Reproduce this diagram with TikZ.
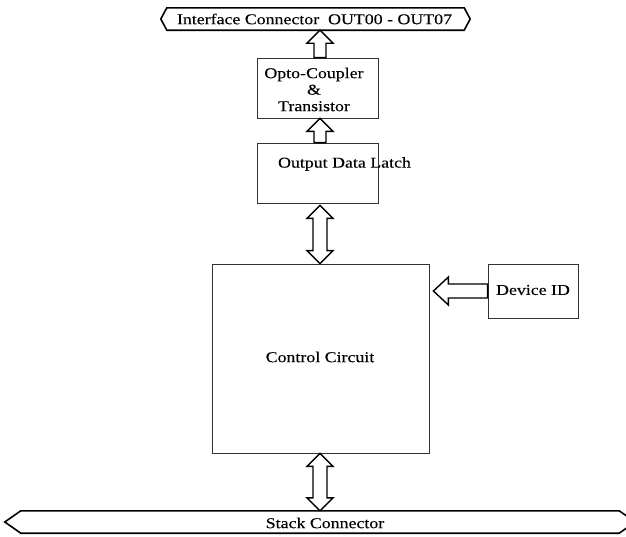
\documentclass[tikz,border=0pt]{standalone}
\usepackage{fontspec}
\setmainfont{Liberation Serif}[FakeStretch=1.19,FakeBold=0.15]
\usetikzlibrary{calc}
\tikzset{
  box/.style={draw=black!80, line width=0.8pt, fill=none, inner sep=0pt},
  lbl/.style={font=\fontsize{15}{16.5}\selectfont, inner sep=0pt, align=center},
  conn/.style={draw=black, line width=1.6pt, line join=miter},
  blockarrow/.style={draw=black, line width=1.4pt, fill=white, line join=miter},
}
\begin{document}
\begin{tikzpicture}[x=1pt,y=-1pt]
\useasboundingbox (0,0) rectangle (626,536);
% axis of the vertical arrows
\coordinate (ax) at (320,0);
% boxes
\node[box, minimum width=121pt, minimum height=60pt] (opto) at (317.5,88) {};
\node[lbl] (optot) at (314,89.5) {Opto-Coupler\\\&\\Transistor};
\node[box, minimum width=121pt, minimum height=60pt] (latch) at (317.5,173) {};
\node[lbl] (latcht) at (344.5,164) {Output Data Latch};
\node[box, minimum width=217pt, minimum height=189pt] (ctrl) at (320.5,358.5) {};
\node[lbl] (ctrlt) at (320,357) {Control Circuit};
\node[box, minimum width=90pt, minimum height=54pt] (devid) at (533,291) {};
\node[lbl] (devidt) at (533,290) {Device ID};
% connectors
\node[inner sep=0pt, minimum width=309pt, minimum height=22pt] (iface) at (315.5,19) {};
\draw[conn] (iface.west) -- ($(iface.north west)+(6pt,0)$) -- ($(iface.north east)+(-6pt,0)$)
  -- (iface.east) -- ($(iface.south east)+(-6pt,0)$) -- ($(iface.south west)+(6pt,0)$) -- cycle;
\node[lbl] (ifacet) at (314.5,19) {Interface Connector\ \ OUT00 - OUT07};
\node[inner sep=0pt, minimum width=630pt, minimum height=22pt] (stack) at (320,522) {};
\draw[conn] (stack.west) -- ($(stack.north west)+(16pt,0)$) -- ($(stack.north east)+(-16pt,0)$)
  -- (stack.east) -- ($(stack.south east)+(-16pt,0)$) -- ($(stack.south west)+(16pt,0)$) -- cycle;
\node[lbl] (stackt) at (325,523) {Stack Connector};
% block arrows: single up arrows (base at #1, tip at #2)
\draw[blockarrow] let \p1=(ax |- opto.north), \p2=(ax |- iface.south) in
  (\x2,\y2) -- (\x2+13pt,\y2-13pt) -- (\x2+6pt,\y2-13pt) -- (\x1+6pt,\y1) -- (\x1-6pt,\y1)
  -- (\x2-6pt,\y2-13pt) -- (\x2-13pt,\y2-13pt) -- cycle;
\draw[blockarrow] let \p1=(ax |- latch.north), \p2=(ax |- opto.south) in
  (\x2,\y2) -- (\x2+13pt,\y2-13pt) -- (\x2+6pt,\y2-13pt) -- (\x1+6pt,\y1) -- (\x1-6pt,\y1)
  -- (\x2-6pt,\y2-13pt) -- (\x2-13pt,\y2-13pt) -- cycle;
% double arrows
\draw[blockarrow] let \p1=($(ax |- latch.south)+(0,2)$), \p2=(ax |- ctrl.north) in
  (\x1,\y1) -- (\x1+13pt,\y1-13pt) -- (\x1+7pt,\y1-13pt) -- (\x1+7pt,\y2+13pt) -- (\x1+13pt,\y2+13pt)
  -- (\x1,\y2) -- (\x1-13pt,\y2+13pt) -- (\x1-7pt,\y2+13pt) -- (\x1-7pt,\y1-13pt) -- (\x1-13pt,\y1-13pt) -- cycle;
\draw[blockarrow] let \p1=(ax |- ctrl.south), \p2=(ax |- stack.north) in
  (\x1,\y1) -- (\x1+13pt,\y1-13pt) -- (\x1+7pt,\y1-13pt) -- (\x1+7pt,\y2+13pt) -- (\x1+13pt,\y2+13pt)
  -- (\x1,\y2) -- (\x1-13pt,\y2+13pt) -- (\x1-7pt,\y2+13pt) -- (\x1-7pt,\y1-13pt) -- (\x1-13pt,\y1-13pt) -- cycle;
% left arrow from Device ID to control circuit
\draw[blockarrow] let \p1=(devid.west), \p2=($(ctrl.east |- devid.west)+(4,0)$) in
  (\x2,\y2) -- (\x2+15pt,\y2+14pt) -- (\x2+15pt,\y2+7pt) -- (\x1,\y1+7pt) -- (\x1,\y1-7pt)
  -- (\x2+15pt,\y2-7pt) -- (\x2+15pt,\y2-14pt) -- cycle;
\end{tikzpicture}
\end{document}
